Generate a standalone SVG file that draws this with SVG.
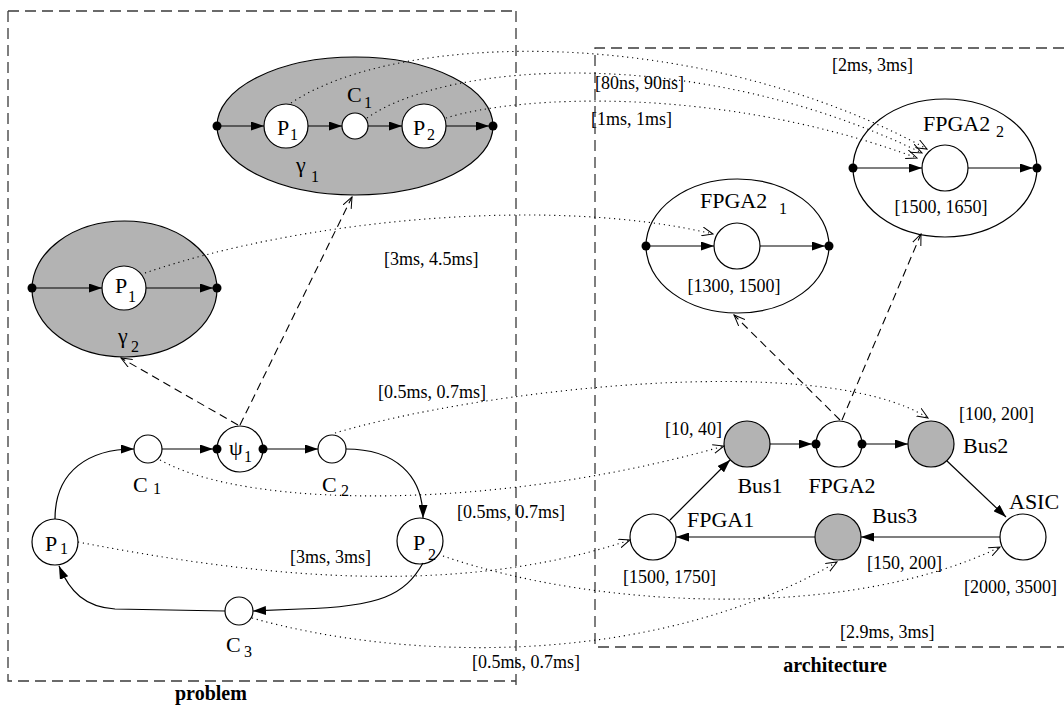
<svg xmlns="http://www.w3.org/2000/svg" width="1064" height="707" viewBox="0 0 1064 707">
  <style>
    text { font-family: "Liberation Serif", "Times New Roman", serif; fill: #000; }
    .nm { font-size: 22px; }
    .sb { font-size: 16px; }
    .br { font-size: 18px; }
    .ttl { font-size: 20px; font-weight: bold; }
    .node { fill: #fff; stroke: #000; stroke-width: 1.2; }
    .bus { fill: #b3b3b3; stroke: #000; stroke-width: 1.2; }
    .cluster { fill: #b3b3b3; stroke: #000; stroke-width: 1.2; }
    .cfg { fill: #fff; stroke: #000; stroke-width: 1.2; }
    .port { fill: #000; }
    .edge { fill: none; stroke: #000; stroke-width: 1.2; marker-end: url(#solid); }
    .map { fill: none; stroke: #000; stroke-width: 1.1; stroke-dasharray: 1.2 3.8; marker-end: url(#open); }
    .alt { fill: none; stroke: #000; stroke-width: 1.1; stroke-dasharray: 8 5; marker-end: url(#open); }
    .frame { fill: none; stroke: #3a3a3a; stroke-width: 1.3; stroke-dasharray: 11 6; }
  </style>
  <defs>
    <marker id="solid" markerUnits="userSpaceOnUse" markerWidth="13" markerHeight="9" refX="13" refY="4.5" orient="auto">
      <path d="M0,0 L13,4.5 L0,9 z" fill="#000"/>
    </marker>
    <marker id="open" markerUnits="userSpaceOnUse" markerWidth="12" markerHeight="10" refX="11" refY="5" orient="auto">
      <path d="M0,0.5 L11,5 L0,9.5" fill="none" stroke="#000" stroke-width="1" stroke-dasharray="none"/>
    </marker>
  </defs>

  <!-- frames -->
  <g id="frames">
    <path class="frame" d="M8,11 H516 M8,11 V681 H516 M516,11 V690"/>
    <path class="frame" d="M1064,48 H595 V647 H1064"/>
    <text class="ttl" x="175" y="700">problem</text>
    <text class="ttl" x="835" y="672" text-anchor="middle">architecture</text>
  </g>

  <!-- cluster gamma 1 -->
  <g id="gamma1">
    <ellipse class="cluster" cx="355" cy="126" rx="138" ry="69"/>
    <circle class="node" cx="286" cy="126" r="22"/>
    <circle class="node" cx="355" cy="126" r="13"/>
    <circle class="node" cx="424" cy="126" r="22"/>
    <circle class="port" cx="217" cy="126" r="4.5"/>
    <circle class="port" cx="493" cy="126" r="4.5"/>
    <path class="edge" d="M217,126 H264"/>
    <path class="edge" d="M308,126 H342"/>
    <path class="edge" d="M368,126 H402"/>
    <path class="edge" d="M446,126 H489"/>
    <text class="nm" x="277" y="135">P</text><text class="sb" x="290" y="140">1</text>
    <text class="nm" x="413" y="135">P</text><text class="sb" x="427" y="140">2</text>
    <text class="nm" x="347" y="102">C</text><text class="sb" x="364" y="108">1</text>
    <text class="nm" x="296" y="172">γ</text><text class="sb" x="311" y="182">1</text>
  </g>

  <!-- cluster gamma 2 -->
  <g id="gamma2">
    <ellipse class="cluster" cx="124.5" cy="289" rx="92.5" ry="68"/>
    <circle class="node" cx="124" cy="288" r="22"/>
    <circle class="port" cx="32" cy="288" r="4.5"/>
    <circle class="port" cx="217" cy="288" r="4.5"/>
    <path class="edge" d="M32,288 H102"/>
    <path class="edge" d="M146,288 H213"/>
    <text class="nm" x="115" y="293">P</text><text class="sb" x="128" y="302">1</text>
    <text class="nm" x="118" y="343">γ</text><text class="sb" x="131" y="352">2</text>
  </g>

  <!-- problem graph -->
  <g id="p-C1"><circle class="node" cx="148" cy="449" r="14"/><text class="nm" x="133" y="492">C</text><text class="sb" x="153" y="494">1</text></g>
  <g id="p-psi1">
    <circle class="node" cx="240" cy="449" r="23"/>
    <circle class="port" cx="217" cy="449" r="4.5"/>
    <circle class="port" cx="263" cy="449" r="4.5"/>
    <text class="nm" x="229" y="455">ψ</text><text class="sb" x="244" y="462">1</text>
  </g>
  <g id="p-C2"><circle class="node" cx="332" cy="449" r="14"/><text class="nm" x="322" y="492">C</text><text class="sb" x="341" y="496">2</text></g>
  <g id="p-P1"><circle class="node" cx="55" cy="542" r="23"/><text class="nm" x="45" y="551">P</text><text class="sb" x="60" y="554">1</text></g>
  <g id="p-P2"><circle class="node" cx="420" cy="541" r="23"/><text class="nm" x="413" y="550">P</text><text class="sb" x="428" y="560">2</text></g>
  <g id="p-C3"><circle class="node" cx="239" cy="611" r="14"/><text class="nm" x="226" y="652">C</text><text class="sb" x="244" y="657">3</text></g>

  <!-- architecture graph -->
  <g id="a-FPGA2-1">
    <ellipse class="cfg" cx="737.5" cy="246" rx="91.5" ry="67"/>
    <circle class="node" cx="737" cy="246" r="23"/>
    <circle class="port" cx="646" cy="246" r="4.5"/>
    <circle class="port" cx="829" cy="246" r="4.5"/>
    <path class="edge" d="M646,246 H714"/>
    <path class="edge" d="M760,246 H825"/>
    <text class="nm" x="700" y="208">FPGA2</text><text class="sb" x="779" y="214">1</text>
    <text class="br" x="734" y="292" text-anchor="middle">[1300, 1500]</text>
  </g>
  <g id="a-FPGA2-2">
    <ellipse class="cfg" cx="945" cy="168" rx="92" ry="69"/>
    <circle class="node" cx="945" cy="168" r="23"/>
    <circle class="port" cx="853" cy="168" r="4.5"/>
    <circle class="port" cx="1037" cy="168" r="4.5"/>
    <path class="edge" d="M853,168 H922"/>
    <path class="edge" d="M968,168 H1033"/>
    <text class="nm" x="923" y="131">FPGA2</text><text class="sb" x="996" y="137">2</text>
    <text class="br" x="941" y="213" text-anchor="middle">[1500, 1650]</text>
  </g>
  <g id="a-Bus1"><circle class="bus" cx="747" cy="444" r="23"/><text class="nm" x="760" y="493" text-anchor="middle">Bus1</text><text class="br" x="665" y="435">[10, 40]</text></g>
  <g id="a-FPGA2">
    <circle class="node" cx="839" cy="444" r="23"/>
    <circle class="port" cx="816" cy="444" r="4.5"/>
    <circle class="port" cx="862" cy="444" r="4.5"/>
    <text class="nm" x="842" y="493" text-anchor="middle">FPGA2</text>
  </g>
  <g id="a-Bus2"><circle class="bus" cx="931" cy="444" r="23"/><text class="nm" x="963" y="453">Bus2</text><text class="br" x="959" y="420">[100, 200]</text></g>
  <g id="a-FPGA1"><circle class="node" cx="653" cy="537" r="23"/><text class="nm" x="687" y="527">FPGA1</text><text class="br" x="623" y="583">[1500, 1750]</text></g>
  <g id="a-Bus3"><circle class="bus" cx="838" cy="537" r="23"/><text class="nm" x="872" y="523">Bus3</text><text class="br" x="867" y="569">[150, 200]</text></g>
  <g id="a-ASIC"><circle class="node" cx="1023" cy="537" r="23"/><text class="nm" x="1009" y="509">ASIC</text><text class="br" x="964" y="593">[2000, 3500]</text></g>

  <!-- connectors -->
  <g id="connectors">
    <!-- problem edges -->
    <path class="edge" d="M55,519 C55,470 90,449 134,449"/>
    <path class="edge" d="M162,449 H213"/>
    <path class="edge" d="M267,449 H318"/>
    <path class="edge" d="M346,449 C395,449 423,475 423,518"/>
    <path class="edge" d="M423,563 C405,595 380,607 300,609 L253,611"/>
    <path class="edge" d="M225,611 L115,609 C85,607 70,592 59,566"/>
    <!-- architecture edges -->
    <path class="edge" d="M770,444 H812"/>
    <path class="edge" d="M866,444 H908"/>
    <path class="edge" d="M947,461 L1006,517"/>
    <path class="edge" d="M1000,537 H861"/>
    <path class="edge" d="M815,537 H676"/>
    <path class="edge" d="M670,520 L730,460"/>
    <!-- hierarchy refinements -->
    <path class="alt" d="M238,425 L121,358"/>
    <path class="alt" d="M240,425 L352,197"/>
    <path class="alt" d="M840,420 L734,315"/>
    <path class="alt" d="M842,420 L921,234"/>
    <!-- bindings -->
    <path class="map" d="M291,103 C400,30 700,25 927,149"/>
    <path class="map" d="M367,118 C450,60 700,45 922,153"/>
    <path class="map" d="M446,118 C520,95 720,85 917,158"/>
    <path class="map" d="M145,273 C300,220 550,195 713,234"/>
    <path class="map" d="M335,433 C480,390 820,350 928,418"/>
    <path class="map" d="M160,460 C250,510 500,510 724,446"/>
    <path class="map" d="M78,542 C250,575 450,600 630,540"/>
    <path class="map" d="M443,556 C600,610 850,620 1000,547"/>
    <path class="map" d="M252,618 C400,660 650,670 837,562"/>
  </g>

  <!-- binding labels -->
  <g id="binding-labels">
    <text class="br" x="832" y="71">[2ms, 3ms]</text>
    <text class="br" x="595" y="89">[80ns, 90ns]</text>
    <text class="br" x="591" y="125">[1ms, 1ms]</text>
    <text class="br" x="384" y="265">[3ms, 4.5ms]</text>
    <text class="br" x="378" y="398">[0.5ms, 0.7ms]</text>
    <text class="br" x="457" y="518">[0.5ms, 0.7ms]</text>
    <text class="br" x="290" y="563">[3ms, 3ms]</text>
    <text class="br" x="840" y="638">[2.9ms, 3ms]</text>
    <text class="br" x="472" y="668">[0.5ms, 0.7ms]</text>
  </g>
</svg>
